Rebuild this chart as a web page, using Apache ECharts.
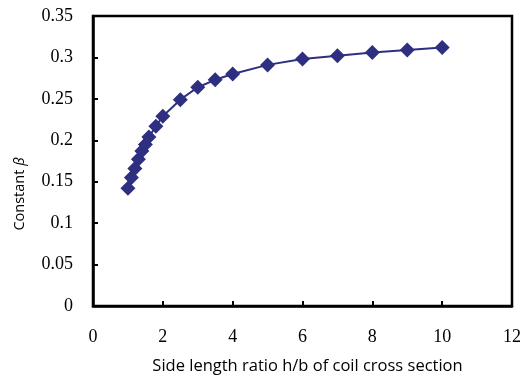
<!DOCTYPE html>
<html>
<head>
<meta charset="utf-8">
<script src="https://cdn.jsdelivr.net/npm/echarts@6/dist/echarts.min.js"></script>
<style>
  html, body { margin: 0; padding: 0; background: #fff; }
  #chart { width: 526px; height: 380px; }
</style>
</head>
<body>
<div id="chart"></div>
<script>
// side length ratio h/b
const ratios = [1.0, 1.1, 1.2, 1.3, 1.4, 1.5, 1.6, 1.8, 2.0, 2.5, 3.0, 3.5, 4.0, 5, 6, 7, 8, 9, 10];
// constant beta
const betas = [0.142, 0.155, 0.166, 0.177, 0.187, 0.195, 0.204, 0.217, 0.229, 0.249, 0.264, 0.273, 0.280, 0.291, 0.298, 0.302, 0.306, 0.309, 0.312];

const points = ratios.map((r, i) => [r, betas[i]]);

const chart = echarts.init(document.getElementById("chart"));
const serif = "Liberation Serif";
const sans = "Open Sans";

chart.setOption({
  animation: false,
  grid: {
    left: 93, right: 14, top: 16, bottom: 73,
    show: true, borderColor: "#000", borderWidth: 2.5
  },
  xAxis: {
    type: "value",
    min: 0, max: 12, interval: 2,
    name: "Side length ratio h/b of coil cross section",
    nameLocation: "middle",
    nameGap: 52,
    nameTextStyle: {fontFamily: sans, fontSize: 16.5, color: "#000", padding: [0, 0, 0, 10]},
    axisLine: {lineStyle: {color: "#000", width: 2.5}},
    axisTick: {inside: true, length: 5, lineStyle: {color: "#000", width: 2}},
    axisLabel: {fontFamily: serif, fontSize: 18, color: "#000", margin: 22},
    splitLine: {show: false}
  },
  yAxis: {
    type: "value",
    min: 0, max: 0.35, interval: 0.05,
    name: "{a|Constant }{b|β}",
    nameLocation: "middle",
    nameRotate: 90,
    nameGap: 66,
    nameTextStyle: {
      padding: [0, 66, 0, 0],
      rich: {
        a: {fontFamily: sans, fontSize: 14.5, color: "#000"},
        b: {fontFamily: sans, fontSize: 14.5, fontStyle: "italic", color: "#000"}
      }
    },
    axisLine: {show: true, lineStyle: {color: "#000", width: 2.5}},
    axisTick: {show: true, inside: true, length: 5, lineStyle: {color: "#000", width: 2}},
    axisLabel: {fontFamily: serif, fontSize: 18, color: "#000", margin: 20},
    splitLine: {show: false}
  },
  series: [{
    type: "line",
    data: points,
    symbol: "diamond",
    symbolSize: 15,
    lineStyle: {color: "#2E2F80", width: 2},
    itemStyle: {color: "#2E2F80"}
  }]
});
</script>
</body>
</html>
